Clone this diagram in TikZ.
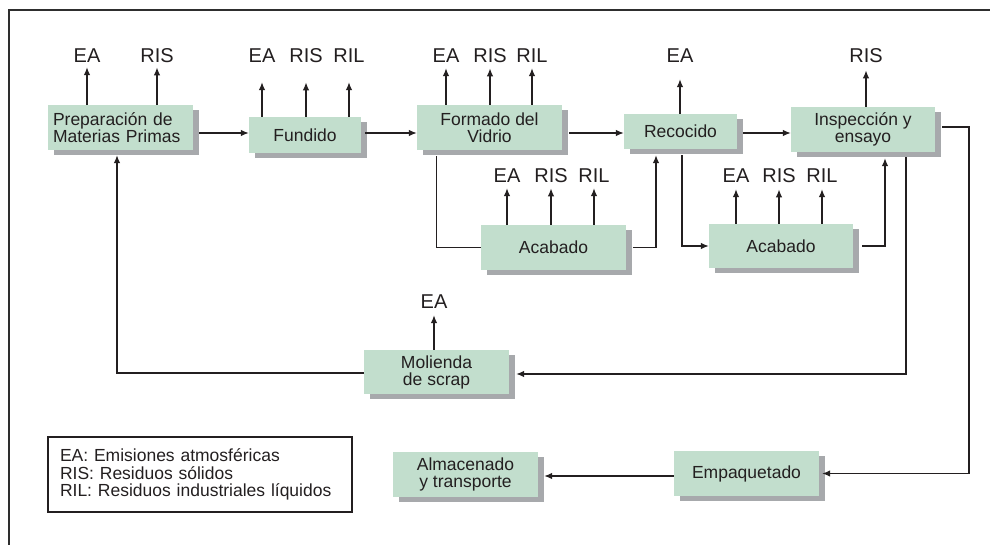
\documentclass[tikz,border=0pt]{standalone}
\usepackage{fontspec}
\setmainfont{Liberation Sans}
\usetikzlibrary{arrows.meta,shadows,calc}
\definecolor{boxgreen}{HTML}{C2DECD}
\definecolor{shadowgray}{HTML}{A7A9AC}
\definecolor{ink}{HTML}{231F20}
\definecolor{framegray}{HTML}{2E2E2E}

\begin{document}
\begin{tikzpicture}[x=1pt,y=-1pt,
  proc/.style={fill=boxgreen, draw=none, minimum width=145pt, minimum height=45pt,
    inner sep=0pt, align=center, text=ink, font=\fontsize{17.5}{17}\selectfont,
    drop shadow={shadow xshift=6pt, shadow yshift=-5pt, fill=shadowgray, opacity=1}},
  tag/.style={anchor=base, inner sep=0pt, text=ink, font=\fontsize{20}{20}\selectfont},
  flow/.style={draw=ink, line width=1.2pt, -{Latex[length=8pt,width=6.5pt]}},
  link/.style={draw=ink, line width=1.2pt},
]
\useasboundingbox (0,0) rectangle (990,545);

% outer frame (top and left edges only)
\draw[line width=1.8pt, draw=framegray] (990,10) -- (9,10) -- (9,545);

% process boxes
\node[proc, align=left, text width=135pt] (prep) at (120.5,127.5) {Preparación de\\Materias Primas};
\node[proc, minimum width=112pt, minimum height=36pt] (fund) at (305,135) {Fundido};
\node[proc] (form) at (489.5,127.5) {Formado del\\Vidrio};
\node[proc, minimum width=113pt, minimum height=35pt] (reco) at (680.5,131.5) {Recocido};
\node[proc, minimum width=144pt] (insp) at (863,129.5) {Inspección y\\ensayo};
\node[proc] (acab1) at (553.5,247.5) {Acabado};
\node[proc, minimum width=144pt, minimum height=44pt] (acab2) at (781,246) {Acabado};
\node[proc, minimum height=44pt] (mol) at (436.5,372) {Molienda\\de scrap};
\node[proc] (alm) at (465.5,474.5) {Almacenado\\y transporte};
\node[proc] (emp) at (746.5,473.5) {Empaquetado};

% legend
\node[draw=ink, line width=1.2pt, minimum width=304pt, minimum height=75pt, inner sep=0pt,
  text width=280pt, align=left, text=ink, font=\fontsize{17.5}{17.5}\selectfont] (key) at (200,474.5)
  {EA: Emisiones atmosféricas\\RIS: Residuos sólidos\\RIL: Residuos industriales líquidos};

% emission / waste labels
\node[tag] (pEA)  at (87,63)  {EA};
\node[tag] (pRIS) at (157,63) {RIS};
\node[tag] (fEA)  at (262,63) {EA};
\node[tag] (fRIS) at (306,63) {RIS};
\node[tag] (fRIL) at (349,63) {RIL};
\node[tag] (vEA)  at (446,63) {EA};
\node[tag] (vRIS) at (490,63) {RIS};
\node[tag] (vRIL) at (532,63) {RIL};
\node[tag] (rEA)  at (680,63) {EA};
\node[tag] (iRIS) at (866,63) {RIS};
\node[tag] (aEA)  at (507,182.5) {EA};
\node[tag] (aRIS) at (551,182.5) {RIS};
\node[tag] (aRIL) at (594,182.5) {RIL};
\node[tag] (bEA)  at (736,183) {EA};
\node[tag] (bRIS) at (779,183) {RIS};
\node[tag] (bRIL) at (822,183) {RIL};
\node[tag] (mEA)  at (434,308) {EA};

% emission arrows
\draw[flow, shorten >=4pt]  (prep.north -| pEA)  -- (pEA.south);
\draw[flow, shorten >=4pt]  (prep.north -| pRIS) -- (pRIS.south);
\draw[flow, shorten >=19pt] (fund.north -| fEA)  -- (fEA.south);
\draw[flow, shorten >=19pt] (fund.north -| fRIS) -- (fRIS.south);
\draw[flow, shorten >=19pt] (fund.north -| fRIL) -- (fRIL.south);
\draw[flow, shorten >=5pt]  (form.north -| vEA)  -- (vEA.south);
\draw[flow, shorten >=5pt]  (form.north -| vRIS) -- (vRIS.south);
\draw[flow, shorten >=5pt]  (form.north -| vRIL) -- (vRIL.south);
\draw[flow, shorten >=16pt] (reco.north -| rEA)  -- (rEA.south);
\draw[flow, shorten >=7pt]  (insp.north -| iRIS) -- (iRIS.south);
\draw[flow, shorten >=5.5pt] (acab1.north -| aEA)  -- (aEA.south);
\draw[flow, shorten >=5.5pt] (acab1.north -| aRIS) -- (aRIS.south);
\draw[flow, shorten >=5.5pt] (acab1.north -| aRIL) -- (aRIL.south);
\draw[flow, shorten >=6pt] (acab2.north -| bEA)  -- (bEA.south);
\draw[flow, shorten >=6pt] (acab2.north -| bRIS) -- (bRIS.south);
\draw[flow, shorten >=6pt] (acab2.north -| bRIL) -- (bRIL.south);
\draw[flow, shorten >=7pt] (mol.north -| mEA) -- (mEA.south);

% main line of the process
\coordinate (row) at (0,133);
\coordinate (railR) at (969,0);
\draw[flow] ($(prep.east|-row)+(6,0)$) -- (fund.west|-row);
\draw[flow] ($(fund.east|-row)+(4,0)$) -- (form.west|-row);
\draw[flow] ($(form.east|-row)+(7,0)$) -- (reco.west|-row);
\draw[flow] ($(reco.east|-row)+(6,0)$) -- (insp.west|-row);

% finishing branches
\draw[link] ($(form.south west)+(20,6)$) |- (acab1.west);
\draw[flow] ($(acab1.east)+(7,0)$) -| ($(reco.south)+(-24.5,6)$);
\draw[flow] ($(reco.south)+(1.5,6)$) |- (acab2.west);
\draw[flow] ($(acab2.east)+(9,0)$) -| ($(insp.south)+(22,6)$);

% scrap recycling loop
\draw[flow] ($(insp.south)+(43,5)$) |- ($(mol.east)+(7,2)$);
\draw[flow] ($(mol.west)+(0,1)$) -| ($(prep.south)+(-3.5,5)$);

% packaging and storage
\draw[flow] ($(insp.east)+(7,-2.5)$) -| (railR |- emp.east) -- ($(emp.east)+(3,0)$);
\draw[flow] ($(emp.west)+(0,2.5)$) -- ($(alm.east)+(6,1.5)$);
\end{tikzpicture}
\end{document}
